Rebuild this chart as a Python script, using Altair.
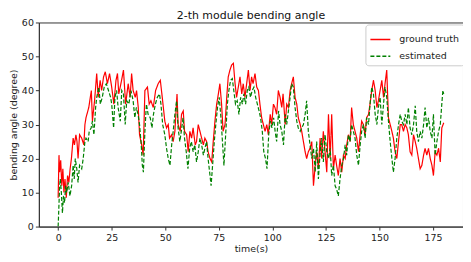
import altair as alt
import pandas as pd

# ground truth (red)
t_gt = [0, 0.4, 0.7, 1.2, 1.7, 2.2, 2.7, 3.2, 3.8, 4.4, 5.0, 5.6, 6.2, 7.0, 7.6, 8.3, 8.8, 9.3, 10.0, 11.0, 12.0, 12.5, 13.0, 14.3, 15.5,
        16.0, 17.0, 18.0, 18.7, 19.6, 20.3, 21.2, 22.0, 23.0, 24.0, 25.0, 26.0, 27.0, 27.7, 28.3, 29.3, 30.5, 31.5, 32.7, 33.6,
        34.3, 35.0, 36.0, 36.6, 37.4, 38.0, 39.0, 39.7, 40.5, 41.7, 42.5, 43.3, 44.4, 45.5, 46.7, 47.7, 48.6, 49.8, 50.6, 51.4,
        52.0, 53.0, 53.7, 54.5, 55.5, 56.0, 57.0, 57.6, 58.4, 59.0, 60.0, 60.7, 61.5, 62.3, 63.0, 64.0, 64.6, 65.4, 66.2, 67.0,
        67.8, 68.5, 69.3, 70.0, 70.9, 71.7, 72.4, 73.2, 74.0, 74.8, 75.5, 76.3, 77.0, 77.9, 78.7, 79.4, 80.2, 81.0, 81.8, 82.6,
        83.3, 84.1, 84.9, 85.7, 86.4, 87.2, 88.0, 88.8, 89.6, 90.3, 91.0, 91.9, 92.7, 93.5, 94.2, 95.0, 95.8, 96.6, 97.4, 98.1,
        99.0, 99.7, 100.5, 101.2, 102.0, 102.8, 103.6, 104.4, 105.0, 106.0, 106.7, 107.5, 108.3, 109.0, 109.8, 110.6, 111.4,
        112.1, 113.0, 113.7, 114.5, 115.3, 116.0, 116.8, 117.6, 118.4, 119.2, 120.0, 120.7, 121.5, 122.3, 123.0, 123.8, 124.6,
        125.4, 126.2, 127.0, 127.7, 128.5, 129.3, 130.0, 130.8, 131.6, 132.4, 133.2, 134.0, 134.7, 135.5, 136.3, 137.0, 137.8,
        138.6, 139.4, 140.2, 141.0, 141.7, 142.5, 143.3, 144.0, 144.9, 145.6, 146.4, 147.2, 148.0, 148.8, 149.5, 150.3, 151.1,
        151.9, 152.6, 153.4, 154.2, 155.0, 155.8, 156.5, 157.3, 158.1, 158.9, 159.7, 160.4, 161.2, 162.0, 162.8, 163.5, 164.3,
        165.1, 165.9, 166.7, 167.4, 168.2, 169.0, 169.8, 170.6, 171.3, 172.1, 172.9, 173.7, 174.5, 175.2, 176.0, 176.8, 177.6,
        178.4, 179.1, 180.0]
v_gt = [8.5, 21, 16, 19.5, 12, 17, 10, 14, 8.5, 15, 13, 17, 20, 26, 24, 27, 25, 20, 27, 26, 24, 30, 32, 35, 40,
        31, 37, 45, 38, 43, 40, 44, 45.5, 42, 45, 41, 36, 43, 45, 39, 42, 46, 36, 42, 38,
        45, 40, 38, 40, 35, 27, 24, 21, 40, 41, 36, 37, 35, 40, 42, 43, 38, 31, 29, 30,
        26, 27, 25, 28, 39, 30, 28, 33, 34, 28, 27, 22, 28, 26, 29, 24, 25, 30, 28, 26,
        24, 26, 25, 22, 20, 19, 25, 31, 36, 39, 42, 36, 28, 30, 38, 44, 46, 47.5, 48, 42,
        38, 41, 44, 39, 42, 38, 42, 46, 40, 44, 42, 45, 41, 40, 36, 32, 30, 28, 30, 27,
        33, 30, 36, 35, 33, 40, 38, 35, 39, 30, 36, 35, 40, 42, 44, 38, 36,
        32, 30, 28, 25, 22, 20, 22, 23, 25, 12, 18, 22, 17, 26, 20, 28, 22,
        16, 33, 20, 33, 17, 21, 18, 15, 20, 16, 21, 20, 24, 27, 25, 35, 30,
        28, 26, 22, 27, 31, 30, 27, 32, 33, 36, 40, 43, 40, 35, 37, 40, 43,
        38, 42, 46, 32, 30, 28, 26, 22, 20, 25, 30, 30, 28, 30, 29, 27, 22,
        21, 27, 25, 23, 20, 17, 18, 21, 23, 21, 23, 20, 18, 15, 22, 21, 23,
        19, 29, 30.5]

# estimated (green)
t_est = [0, 0.3, 0.7, 1.0, 1.5, 2.0, 2.5, 3.0, 3.5, 4.0, 4.7, 5.5, 6.3, 7.0, 7.5, 8.0, 8.7, 9.3, 10.0, 11.0, 11.7, 12.5,
         13.0, 14.0, 14.5, 15.4, 16.0, 16.7, 17.5, 18.0, 19.0, 19.7, 20.6, 21.5, 22.5, 23.5, 24.5, 25.0, 25.9, 26.5, 27.3,
         28.0, 29.0, 29.7, 30.5, 31.3, 32.0, 33.0, 34.0, 35.0, 35.8, 36.5, 37.3, 38.0, 38.8, 39.3, 39.8, 40.5, 41.2, 42.0,
         43.0, 43.8, 44.5, 45.4, 46.3, 47.3, 48.0, 48.8, 49.8, 50.6, 51.4, 52.2, 53.0, 53.7, 54.5, 55.3, 56.0, 56.8, 57.5,
         58.3, 59.0, 59.8, 60.6, 61.4, 62.2, 63.0, 63.8, 64.6, 65.4, 66.2, 67.0, 67.8, 68.5, 69.3, 70.0, 70.9, 71.4, 72.1,
         72.9, 73.6, 74.4, 75.2, 76.0, 76.7, 77.4, 78.2, 79.0, 79.7, 80.5, 81.3, 82.0, 82.8, 83.6, 84.4, 85.2, 86.0, 86.7,
         87.5, 88.3, 89.0, 89.8, 90.6, 91.4, 92.2, 93.0, 93.8, 94.5, 95.3, 96.0, 96.8, 97.5, 98.3, 99.0, 99.8, 100.6, 101.3,
         102.0, 102.9, 103.6, 104.4, 105.2, 106.0, 106.7, 107.5, 108.3, 109.0, 109.8, 110.6, 111.4, 112.1, 113.0, 113.7,
         114.5, 115.3, 116.0, 116.8, 117.6, 118.4, 119.2, 120.0, 120.7, 121.5, 122.3, 123.0, 123.8, 124.6, 125.4, 126.2,
         127.0, 127.7, 128.5, 129.3, 130.0, 130.8, 131.6, 132.4, 133.2, 134.0, 134.7, 135.5, 136.3, 137.0, 137.8, 138.6,
         139.4, 140.2, 141.0, 141.7, 142.5, 143.3, 144.0, 144.9, 145.6, 146.4, 147.2, 148.0, 148.8, 149.5, 150.3, 151.1,
         151.9, 152.6, 153.4, 154.2, 155.0, 155.8, 156.5, 157.3, 158.1, 158.9, 159.7, 160.4, 161.2, 162.0, 162.8, 163.5,
         164.3, 165.1, 165.9, 166.7, 167.4, 168.2, 169.0, 169.8, 170.6, 171.3, 172.1, 172.9, 173.7, 174.5, 175.2, 176.0,
         176.8, 177.6, 178.4, 179.1, 179.6, 180.0]
v_est = [0, 5, 12, 14, 10, 4, 9, 7, 12, 10, 13, 9, 12, 18, 14, 20, 17, 13, 18, 17, 20, 25,
         26, 25, 28, 29, 31, 27, 35, 38, 41, 36, 38, 41, 42, 40, 38, 36, 29, 38, 40,
         35, 31, 40, 39, 30, 37, 36, 40, 37, 32, 35, 33, 30, 24, 18, 16, 28, 36, 33,
         32, 29, 33, 36, 38, 39, 36, 30, 27, 23, 20, 18, 24, 28, 33, 37, 29, 25, 28,
         32, 26, 22, 17, 23, 25, 22, 24, 19, 22, 26, 24, 21, 23, 25, 20, 15, 12, 18,
         25, 30, 35, 38, 32, 25, 18, 27, 36, 40, 43, 43.5, 40, 36, 37, 33, 38, 36, 39,
         36, 40, 41, 38, 40, 41, 38, 36, 34, 32, 28, 22, 20, 17, 27, 31, 29, 32, 28,
         25, 34, 30, 28, 24, 33, 30, 34, 38, 42, 41, 35, 31, 29, 28, 29,
         30, 33, 37, 28, 24, 20, 23, 16, 25, 14, 22, 26, 19, 27, 22, 20,
         23, 15, 18, 12, 11, 9, 14, 18, 20, 24, 21, 27, 25, 30, 28, 26,
         21, 18, 24, 28, 30, 26, 32, 30, 36, 41, 39, 33, 30, 35, 38, 30,
         36, 41, 38, 31, 25, 20, 16, 20, 26, 30, 33, 31, 30, 33, 30, 35,
         29, 27, 30, 35.5, 28, 25, 28, 26, 30, 35, 29, 32, 28, 26, 33, 21,
         25, 28, 30, 36, 40, 39]

series_names = ["ground truth", "estimated"]

df = pd.concat([
    pd.DataFrame({"t": t_gt, "v": v_gt, "series": series_names[0], "order": range(len(t_gt))}),
    pd.DataFrame({"t": t_est, "v": v_est, "series": series_names[1], "order": range(len(t_est))}),
])

font = "DejaVu Sans"

legend = alt.Legend(title=None, orient="none", legendX=328, legendY=2)

chart = alt.Chart(df).mark_line(strokeWidth=1.2, clip=True).encode(
    x=alt.X("t:Q", scale=alt.Scale(domain=[-9, 189], nice=False, zero=False),
            axis=alt.Axis(title="time(s)", values=[0, 25, 50, 75, 100, 125, 150, 175])),
    y=alt.Y("v:Q", scale=alt.Scale(domain=[0, 60], nice=False),
            axis=alt.Axis(title="bending angle (degree)", values=[0, 10, 20, 30, 40, 50, 60])),
    color=alt.Color("series:N", scale=alt.Scale(domain=series_names, range=["#ff0000", "#008000"]),
                    legend=legend),
    strokeDash=alt.StrokeDash("series:N", scale=alt.Scale(domain=series_names, range=[[1, 0], [4, 2]]),
                              legend=legend),
    order="order:Q",
    detail="series:N",
).properties(
    width=426,
    height=205,
    title=alt.TitleParams("2-th module bending angle", font=font, fontSize=11, fontWeight="normal",
                          color="#111", anchor="middle", offset=-4),
    autosize=alt.AutoSizeParams(type="none"),
    padding={"left": 31, "top": 14, "right": 0, "bottom": 27},
).configure_view(
    stroke="#333", strokeWidth=1
).configure_axis(
    grid=False, labelFont=font, titleFont=font, labelFontSize=9.5, titleFontSize=9.5,
    titleFontWeight="normal", labelColor="#222", titleColor="#222", tickColor="#333",
    domainColor="#333", tickSize=3.5, labelPadding=2
).configure_axisX(titlePadding=2).configure_axisY(titlePadding=3).configure_legend(
    labelFont=font, labelFontSize=9.5, labelColor="#222", symbolType="stroke", symbolSize=400,
    symbolStrokeWidth=1.5, fillColor="white", strokeColor="#ccc", cornerRadius=3, padding=4,
    rowPadding=1, labelOffset=8
)

chart.save("out.html", embed_options={"renderer": "svg", "actions": False})
